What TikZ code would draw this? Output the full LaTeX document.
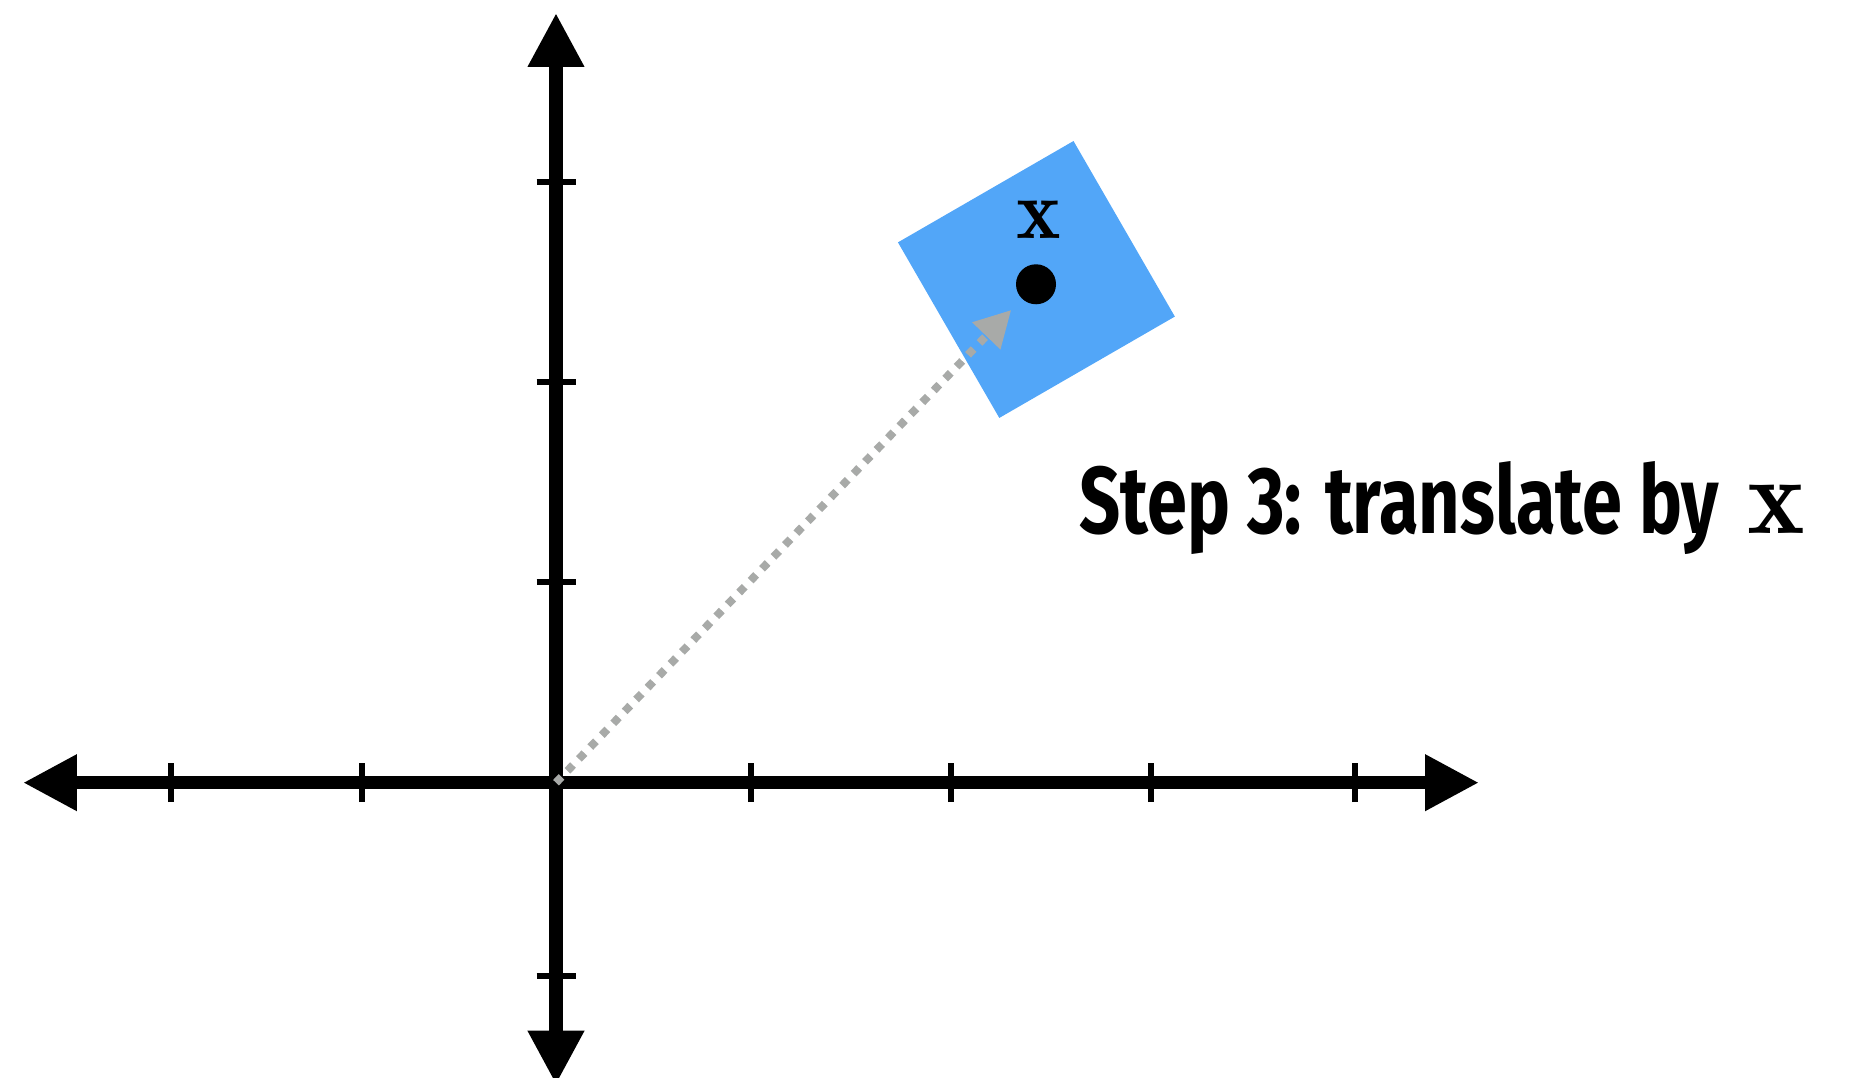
\documentclass[tikz,border=0pt]{standalone}
\usepackage{fontspec}
\usetikzlibrary{arrows.meta, positioning}
\newfontfamily\stepfont{Fira Sans}[FakeStretch=0.76]
\definecolor{squareblue}{RGB}{82,166,248}
\definecolor{arrowgray}{RGB}{168,170,168}

\begin{document}
\begin{tikzpicture}[
    axis/.style={line width=0.133cm, {Triangle[length=0.54cm, width=0.53cm]}-{Triangle[length=0.54cm, width=0.53cm]}},
    axtick/.style={line width=0.06cm},
    blocksq/.style={fill=squareblue, minimum size=2.027cm, inner sep=0pt, rotate=30},
    xdot/.style={circle, fill=black, minimum size=0.4cm, inner sep=0pt},
    transarr/.style={line width=0.08cm, draw=arrowgray, dash pattern=on 0.08cm off 0.085cm, -{Triangle[length=0.36cm, width=0.37cm]}, shorten >=0.15cm},
]
\useasboundingbox (-5.56,-2.953) rectangle (13.18,7.827);

% Axes
\coordinate (O) at (0,0);
\coordinate (xl) at (-5.33,0);
\coordinate (xr) at (9.23,0);
\coordinate (yt) at (0,7.697);
\coordinate (yb) at (0,-3.02);

\draw[axis] (xl) -- (xr);
\draw[axis] (yb) -- (yt);

\foreach \t in {-3.85,-1.94,1.95,3.95,5.95,7.99} {
    \draw[axtick] (\t,-0.195) -- (\t,0.195);
}
\foreach \t in {6.004,4.01,2.004,-1.93} {
    \draw[axtick] (-0.195,\t) -- (0.195,\t);
}

% Translated square
\node[blocksq] (sq) at (4.804,5.032) {};
\node[xdot] (xpt) at (4.80,4.984) {};
\node[above=0.24cm of xpt, inner sep=0pt, xshift=0.03cm, font=\fontsize{24}{28}\selectfont] (xlab) {$\mathbf{x}$};

\draw[transarr] (O) -- (xpt);

% Caption
\node[anchor=base west, inner sep=0pt, font=\fontsize{27}{32}\selectfont] (cap) at (5.23,2.487) {{\stepfont\bfseries Step 3: translate by} \fontsize{31}{36}\selectfont$\mathbf{x}$};

\end{tikzpicture}
\end{document}
